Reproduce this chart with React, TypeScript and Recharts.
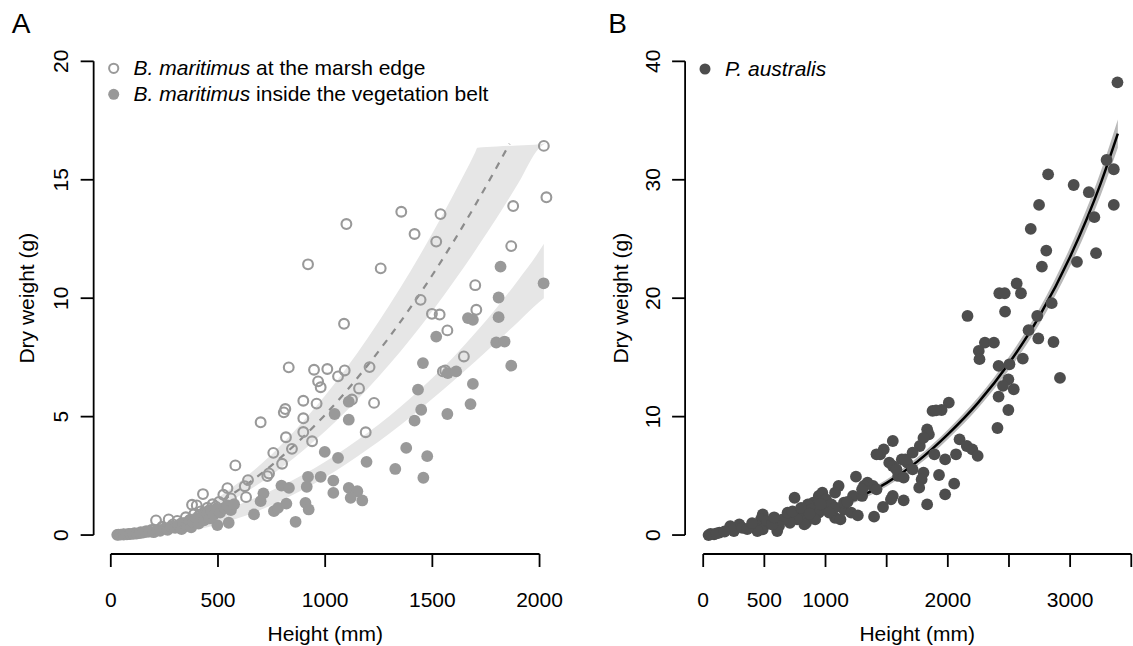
import React from 'react'
import { ComposedChart, Scatter, Line, Area, XAxis, YAxis, ReferenceLine } from 'recharts'

// Panel A: B. maritimus at the marsh edge (open circles)
const edgeHeight = [
  2020, 2032, 1877, 1868, 1099, 1355, 1538, 1417, 1518, 920, 1259, 1700, 1445, 1498, 1534, 1705,
  1570, 1088, 1647, 1549, 1560, 830, 948, 1010, 1091, 1060, 967, 979, 1207, 1158, 1125, 1228, 898,
  960, 814, 807, 898, 699, 817, 898, 939, 1189, 845, 758, 799, 738, 730, 640, 625, 581, 631, 544,
  525, 430, 379, 401, 451, 211, 270,
  35, 60, 85, 110, 140, 165, 190, 240, 290, 310, 330, 350, 370, 390, 410, 420, 440, 460, 475, 490,
  505, 560, 520
]
const edgeWeight = [
  16.43, 14.26, 13.89, 12.2, 13.13, 13.65, 13.55, 12.71, 12.39, 11.43, 11.26, 10.55, 9.93, 9.34, 9.31, 9.51,
  8.64, 8.92, 7.54, 6.91, 6.95, 7.08, 6.98, 7.01, 6.95, 6.7, 6.49, 6.24, 7.09, 6.19, 5.72, 5.58, 5.67,
  5.55, 5.32, 5.18, 4.93, 4.76, 4.13, 4.35, 3.96, 4.34, 3.64, 3.47, 3.01, 2.6, 2.49, 2.32, 2.06, 2.94, 1.6, 1.98,
  1.7, 1.73, 1.28, 1.25, 1.15, 0.62, 0.66,
  0.02, 0.04, 0.05, 0.08, 0.12, 0.16, 0.22, 0.35, 0.45, 0.6, 0.5, 0.75, 0.65, 0.9, 0.8, 1.0, 0.95, 1.05, 1.3, 1.2,
  1.4, 1.55, 1.1
]

// Panel A: B. maritimus inside the vegetation belt (filled circles)
const beltHeight = [
  1818, 2019, 1809, 1809, 1666, 1689, 1518, 1798, 1837, 1868, 1456, 1572, 1611, 1689, 1433, 1678,
  1448, 1417, 1570, 1044, 1110, 1110, 1378, 1476, 1327, 1458, 1193, 998, 1060, 979, 920, 1038, 796,
  831, 914, 1038, 1110, 1150, 1119, 1173, 908, 923, 862, 712, 699, 761, 780, 819, 668, 550, 497,
  30, 45, 60, 75, 90, 105, 120, 135, 150, 165, 180, 200, 215, 230, 250, 265, 280, 300, 315, 330,
  340, 355, 365, 375, 385, 400, 410, 425, 435, 450, 460, 470, 480, 495, 510, 530, 545, 560, 575
]
const beltWeight = [
  11.33, 10.63, 10.03, 9.2, 9.16, 9.09, 8.38, 8.13, 8.17, 7.15, 7.26, 6.84, 6.91, 6.38, 6.14, 5.53,
  5.29, 4.83, 5.11, 5.11, 4.87, 5.63, 3.68, 3.33, 2.79, 2.42, 3.09, 3.51, 3.26, 2.46, 2.46, 2.3, 2.09,
  1.99, 2.04, 1.78, 1.99, 1.85, 1.57, 1.46, 1.36, 1.08, 0.56, 1.76, 1.43, 1.01, 1.15, 1.33, 0.87, 0.52, 0.42,
  0.01, 0.02, 0.02, 0.03, 0.04, 0.05, 0.06, 0.08, 0.1, 0.13, 0.15, 0.12, 0.2, 0.18, 0.28, 0.22, 0.35, 0.3, 0.42, 0.25,
  0.5, 0.4, 0.6, 0.33, 0.55, 0.7, 0.48, 0.8, 0.62, 0.9, 0.7, 1.0, 0.85, 1.1, 0.95, 1.15, 1.25, 1.05, 1.3
]

// Panel A fitted curve (marsh edge) and its band
const edgeFitHeight = [30, 100, 200, 300, 400, 500, 600, 700, 800, 900, 1000, 1100, 1200, 1300, 1400, 1500, 1600, 1700, 1800, 1860]
const edgeFitWeight = [0.007, 0.064, 0.24, 0.52, 0.89, 1.36, 1.93, 2.58, 3.33, 4.16, 5.08, 6.09, 7.19, 8.37, 9.63, 10.98, 12.41, 13.93, 15.53, 16.52]
const edgeBandHeight = [30, 100, 200, 300, 400, 500, 600, 700, 800, 900, 1000, 1100, 1200, 1300, 1400, 1500, 1600, 1700, 1710, 1800, 1900, 2000, 2030]
const edgeBandLow = [0.006, 0.055, 0.21, 0.45, 0.77, 1.17, 1.66, 2.22, 2.87, 3.59, 4.38, 5.25, 6.2, 7.21, 8.3, 9.46, 10.7, 12.01, 12.15, 13.39, 14.84, 16.35, 16.55]
const edgeBandHigh = [0.008, 0.074, 0.28, 0.6, 1.03, 1.58, 2.24, 2.99, 3.86, 4.83, 5.89, 7.06, 8.34, 9.71, 11.17, 12.74, 14.4, 16.16, 16.35, 16.4, 16.45, 16.5, 16.55]

// Panel A band (vegetation belt)
const beltBandHeight = [50, 100, 200, 300, 400, 500, 600, 700, 800, 900, 1000, 1100, 1200, 1300, 1400, 1500, 1600, 1700, 1800, 1900, 2000, 2020]
const beltBandLow = [0, 0, 0, 0.075, 0.23, 0.45, 0.73, 1.07, 1.47, 1.93, 2.44, 3.01, 3.63, 4.29, 5.0, 5.75, 6.53, 7.33, 8.16, 9.0, 9.85, 10.0]
const beltBandHigh = [0.04, 0.09, 0.235, 0.435, 0.67, 0.95, 1.29, 1.67, 2.09, 2.57, 3.1, 3.69, 4.33, 5.03, 5.8, 6.63, 7.53, 8.53, 9.6, 10.76, 12.01, 12.3]

// Panel B: P. australis
const reedHeight = [
  3387, 2820, 3029, 3298, 3357, 3153, 2746, 3357, 3198, 2678, 2805, 3212, 3056, 2769, 2563, 2598,
  2421, 2465, 2849, 2468, 2161, 2731, 2660, 2740, 2253, 2303, 2377, 2259, 2864, 2917, 2613, 2415,
  2504, 2495, 2451, 2539, 2415, 2495, 2406, 2008, 1949, 1875, 1904, 2096, 2155, 2200, 2244, 2067,
  1978, 1890, 1831, 1845, 1771, 1801, 1712, 1668, 1624, 1801, 1786, 1766, 1928, 1831, 1978, 2052,
  1550, 1476, 1447, 1417, 1521, 1550, 1594, 1653, 1388, 1343, 1417, 1550, 1535, 1639, 1470, 1397,
  1249, 1107, 1078, 1225, 1299, 1151, 1210, 1264, 1078, 1122, 945, 974, 1004, 900, 856, 886, 945,
  915, 841, 797, 827, 747, 709, 768, 709, 650, 620, 605, 487, 472, 443, 487, 443, 295, 251, 221,
  133, 89, 44, 1004, 1048, 1078, 1151, 1314, 1299, 1580, 1639, 1712,
  60, 110, 175, 320, 360, 400, 520, 560, 580, 690, 730, 800, 870, 960, 1030, 1180
]
const reedWeight = [
  38.23, 30.46, 29.56, 31.67, 30.89, 28.95, 27.88, 27.88, 26.84, 25.85, 24.02, 23.8, 23.07, 22.67, 21.24, 20.42,
  20.42, 20.42, 19.58, 18.87, 18.5, 18.5, 17.3, 16.6, 15.55, 16.25, 16.25, 14.85, 16.3, 13.27, 14.9, 14.28,
  14.42, 13.15, 12.6, 12.31, 11.69, 10.56, 9.04, 11.18, 10.56, 10.48, 10.53, 8.08, 7.52, 7.24, 6.68, 6.82,
  6.39, 6.82, 8.93, 8.5, 7.52, 8.2, 6.96, 6.11, 6.39, 5.27, 4.7, 4.0, 5.07, 2.59, 3.44, 4.34,
  7.94, 7.24, 6.82, 6.82, 6.11, 5.83, 4.99, 6.39, 4.14, 4.42, 3.86, 3.3, 3.01, 2.93, 2.37, 1.55,
  4.93, 4.14, 3.58, 3.3, 3.3, 2.17, 1.89, 1.66, 1.46, 1.32, 3.3, 3.58, 3.01, 2.73, 2.59, 2.17, 1.89,
  1.32, 1.04, 1.75, 0.9, 3.15, 1.61, 1.32, 1.04, 1.32, 0.76, 0.34, 1.75, 1.32, 0.76, 0.48, 0.34, 0.9, 0.34, 0.76,
  0.2, 0.06, 0.0, 2.31, 2.59, 2.31, 2.73, 4.14, 3.86, 5.55, 4.85, 5.55,
  0.1, 0.15, 0.3, 0.6, 0.5, 1.0, 1.2, 0.9, 1.5, 1.9, 2.0, 2.3, 1.8, 2.6, 1.9, 2.8
]
const reedFitHeight = [30, 250, 500, 750, 1000, 1250, 1500, 1750, 2000, 2250, 2500, 2750, 3000, 3250, 3390]
const reedFitWeight = [0.03, 0.3, 0.75, 1.35, 2.1, 3.1, 4.4, 6.2, 8.5, 11.2, 14.5, 18.5, 23.5, 29.7, 33.9]
const reedBandLow = [-0.12, 0.1, 0.5, 1.05, 1.8, 2.8, 4.1, 5.85, 8.1, 10.75, 13.95, 17.85, 22.7, 28.7, 32.7]
const reedBandHigh = [0.18, 0.5, 1.0, 1.65, 2.4, 3.4, 4.7, 6.55, 8.9, 11.65, 15.05, 19.15, 24.3, 30.7, 35.1]

const ticksA = [0, 500, 1000, 1500, 2000]
const ticksB = [0, 500, 1000, 1500, 2000, 2500, 3000, 3500]
const labelsB = [0, 500, 1000, 2000, 3000]
const yTicksA = [0, 5, 10, 15, 20]
const yTicksB = [0, 10, 20, 30, 40]

const FONT = '"Liberation Sans", Arial, Helvetica, sans-serif'
const FS = 21
const LIGHT = '#999999'
const DARK = '#4d4d4d'

const toPoints = (xs: number[], ys: number[]) => xs.map((x, i) => ({ x, y: ys[i] }))
const toBand = (xs: number[], lo: number[], hi: number[]) => xs.map((x, i) => ({ x, band: [lo[i], hi[i]] }))

const edgePoints = toPoints(edgeHeight, edgeWeight)
const beltPoints = toPoints(beltHeight, beltWeight)
const edgeFit = toPoints(edgeFitHeight, edgeFitWeight)
const edgeBand = toBand(edgeBandHeight, edgeBandLow, edgeBandHigh)
const beltBand = toBand(beltBandHeight, beltBandLow, beltBandHigh)
const reedPoints = toPoints(reedHeight, reedWeight)
const reedFit = toPoints(reedFitHeight, reedFitWeight)
const reedBand = toBand(reedFitHeight, reedBandLow, reedBandHigh)

const openDot = (p: any) => <circle cx={p.cx} cy={p.cy} r={4.9} fill="none" stroke={LIGHT} strokeWidth={2.1} />
const lightDot = (p: any) => <circle cx={p.cx} cy={p.cy} r={5.9} fill={LIGHT} />
const darkDot = (p: any) => <circle cx={p.cx} cy={p.cy} r={5.9} fill={DARK} />

const xTick = (labels: number[]) => (p: any) =>
  labels.includes(p.payload.value) ? (
    <text x={p.x} y={607} textAnchor="middle" fontSize={FS} fontFamily={FONT} fill="#000">
      {p.payload.value}
    </text>
  ) : (
    <g />
  )

const yTick = (bx: number) => (p: any) => (
  <text x={bx} y={p.y} transform={`rotate(-90, ${bx}, ${p.y})`} textAnchor="middle" fontSize={FS} fontFamily={FONT} fill="#000">
    {p.payload.value}
  </text>
)

const axisStroke = { stroke: '#000', strokeWidth: 1.8 }

export default function App() {
  return (
    <div style={{ position: 'absolute', left: 0, top: 0, width: 1133, height: 646, background: '#fff', overflow: 'hidden' }}>
      <div style={{ position: 'absolute', left: 0, top: 0 }}>
        <ComposedChart width={566} height={646} margin={{ top: 42.4, right: 9.3, bottom: 32, left: 33.65 }}>
          <XAxis
            dataKey="x"
            type="number"
            domain={[-80, 2080]}
            allowDataOverflow
            ticks={ticksA}
            interval={0}
            height={60}
            axisLine={false}
            tickLine={axisStroke}
            tickSize={13}
            tick={xTick(ticksA)}
          />
          <YAxis
            type="number"
            domain={[-0.8, 20.8]}
            allowDataOverflow
            ticks={yTicksA}
            interval={0}
            width={60}
            axisLine={false}
            tickLine={axisStroke}
            tickSize={13}
            tick={yTick(68)}
          />
          <Area data={edgeBand} dataKey="band" type="monotone" stroke="none" fill="#e6e6e6" fillOpacity={1} isAnimationActive={false} />
          <Area data={beltBand} dataKey="band" type="monotone" stroke="none" fill="#e6e6e6" fillOpacity={1} isAnimationActive={false} />
          <Scatter data={edgePoints} dataKey="y" shape={openDot} isAnimationActive={false} />
          <Scatter data={beltPoints} dataKey="y" shape={lightDot} isAnimationActive={false} />
          <Line data={edgeFit} dataKey="y" type="monotone" stroke="#8c8c8c" strokeWidth={2.2} strokeDasharray="7 7" dot={false} isAnimationActive={false} />
          <ReferenceLine segment={[{ x: 0, y: -0.8 }, { x: 2000, y: -0.8 }]} ifOverflow="visible" {...axisStroke} />
          <ReferenceLine segment={[{ x: -80, y: 0 }, { x: -80, y: 20 }]} ifOverflow="visible" {...axisStroke} />
        </ComposedChart>
      </div>
      <div style={{ position: 'absolute', left: 566, top: 0 }}>
        <ComposedChart width={567} height={646} margin={{ top: 42.4, right: 0, bottom: 32, left: 59.1 }}>
          <XAxis
            dataKey="x"
            type="number"
            domain={[-148, 3514]}
            allowDataOverflow
            ticks={ticksB}
            interval={0}
            height={60}
            axisLine={false}
            tickLine={axisStroke}
            tickSize={13}
            tick={xTick(labelsB)}
          />
          <YAxis
            type="number"
            domain={[-1.6, 41.6]}
            allowDataOverflow
            ticks={yTicksB}
            interval={0}
            width={60}
            axisLine={false}
            tickLine={axisStroke}
            tickSize={13}
            tick={yTick(94.5)}
          />
          <Area data={reedBand} dataKey="band" type="monotone" stroke="none" fill="#b8b8b8" fillOpacity={1} isAnimationActive={false} />
          <Scatter data={reedPoints} dataKey="y" shape={darkDot} isAnimationActive={false} />
          <Line data={reedFit} dataKey="y" type="monotone" stroke="#000" strokeWidth={2.5} dot={false} isAnimationActive={false} />
          <ReferenceLine segment={[{ x: 0, y: -1.6 }, { x: 3500, y: -1.6 }]} ifOverflow="visible" {...axisStroke} />
          <ReferenceLine segment={[{ x: -148, y: 0 }, { x: -148, y: 40 }]} ifOverflow="visible" {...axisStroke} />
        </ComposedChart>
      </div>
      <svg width={1133} height={646} style={{ position: 'absolute', left: 0, top: 0, pointerEvents: 'none' }} fontFamily={FONT} fill="#000">
        <text x={21} y={33} fontSize={28} textAnchor="middle">A</text>
        <text x={617.6} y={33} fontSize={28} textAnchor="middle">B</text>
        <text x={325.3} y={641} fontSize={FS} textAnchor="middle">Height (mm)</text>
        <text x={917.2} y={641} fontSize={FS} textAnchor="middle">Height (mm)</text>
        <text x={34.5} y={298.2} fontSize={FS} textAnchor="middle" transform="rotate(-90, 34.5, 298.2)">Dry weight (g)</text>
        <text x={628} y={298.2} fontSize={FS} textAnchor="middle" transform="rotate(-90, 628, 298.2)">Dry weight (g)</text>
        <circle cx={113.7} cy={68.3} r={4.6} fill="none" stroke={LIGHT} strokeWidth={2} />
        <circle cx={113.7} cy={94.3} r={5.5} fill={LIGHT} />
        <text x={133.6} y={75} fontSize={FS}>
          <tspan fontStyle="italic">B. maritimus</tspan> at the marsh edge
        </text>
        <text x={133.6} y={101} fontSize={FS}>
          <tspan fontStyle="italic">B. maritimus</tspan> inside the vegetation belt
        </text>
        <circle cx={705} cy={69} r={5.5} fill={DARK} />
        <text x={725} y={75.5} fontSize={FS} fontStyle="italic">P. australis</text>
      </svg>
    </div>
  )
}
